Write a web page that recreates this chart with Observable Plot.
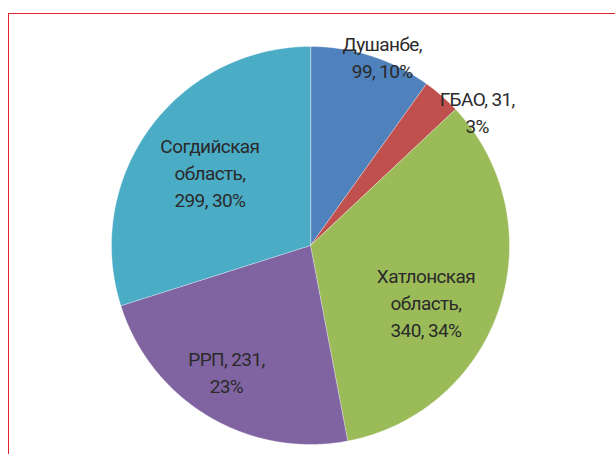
<!DOCTYPE html>
<html>
<head>
<meta charset="utf-8">
<script src="https://cdn.jsdelivr.net/npm/d3@7"></script>
<script src="https://cdn.jsdelivr.net/npm/@observablehq/plot@0.6"></script>
<style>
  html, body { margin: 0; padding: 0; background: #fff; overflow: hidden; }
  #frame { position: absolute; left: 8px; top: 13px; width: 700px; height: 600px;
           border-left: 1.5px solid #e0242f; border-top: 1.5px solid #e0242f; }
  #chart { position: absolute; left: 0; top: 0; }
  #chart svg text { letter-spacing: -0.6px; }
</style>
</head>
<body>
<div id="frame"></div>
<div id="chart"></div>
<script>
// ---- data ----
const regions = ["Душанбе", "ГБАО", "Хатлонская область", "РРП", "Согдийская область"];
const counts = [99, 31, 340, 231, 299];
const shares = [10, 3, 34, 23, 30];
const colors = ["#4f81bd", "#c0504d", "#9bbb59", "#8064a2", "#4bacc6"];

// ---- layout (label placement: radius fraction, angle nudge in degrees) ----
const labelRadius = [1.005, 1.07, 0.65, 0.77, 0.62];
const labelNudge = [3.2, 10.3, 8.8, 2.5, -0.8];

function wrap(text, max) {
  const words = text.split(" ");
  const lines = [];
  let cur = "";
  for (const w of words) {
    if (cur && (cur + " " + w).length > max) { lines.push(cur); cur = w; }
    else cur = cur ? cur + " " + w : w;
  }
  if (cur) lines.push(cur);
  return lines.join("\n");
}

const total = d3.sum(counts);
const slices = [];
let acc = 0;
regions.forEach((r, i) => {
  const a0 = acc / total * 2 * Math.PI;
  acc += counts[i];
  const a1 = acc / total * 2 * Math.PI;
  slices.push({region: r, a0, a1, i});
});

const pts = [];
for (const s of slices) {
  pts.push({region: s.region, x: 0, y: 0});
  const n = Math.max(2, Math.ceil((s.a1 - s.a0) / (Math.PI / 360)));
  for (let k = 0; k <= n; k++) {
    const a = s.a0 + (s.a1 - s.a0) * k / n;
    pts.push({region: s.region, x: Math.sin(a), y: Math.cos(a)});
  }
}

const labels = slices.map(s => {
  const a = (s.a0 + s.a1) / 2 + labelNudge[s.i] * Math.PI / 180;
  const rr = labelRadius[s.i];
  return {
    x: rr * Math.sin(a), y: rr * Math.cos(a),
    text: wrap(`${s.region}, ${counts[s.i]}, ${shares[s.i]}%`, 10)
  };
});

const chart = Plot.plot({
  width: 615,
  height: 454,
  margin: 0,
  x: {domain: [-1, 1], range: [111, 509], axis: null},
  y: {domain: [-1, 1], range: [444, 46], axis: null},
  color: {domain: regions, range: colors},
  style: {background: "transparent"},
  marks: [
    Plot.line(pts, {x: "x", y: "y", z: "region", fill: "region", stroke: "#ffffff",
      strokeWidth: 0.6, strokeOpacity: 0.6, curve: "linear-closed"}),
    Plot.text(labels, {x: "x", y: "y", text: "text", fill: "#2a2a2a",
      fontSize: 19, lineHeight: 1.42, lineAnchor: "middle", textAnchor: "middle",
      dy: -2.5, dx: 0, fontFamily: "Roboto"})
  ]
});
document.getElementById("chart").appendChild(chart);
</script>
</body>
</html>
